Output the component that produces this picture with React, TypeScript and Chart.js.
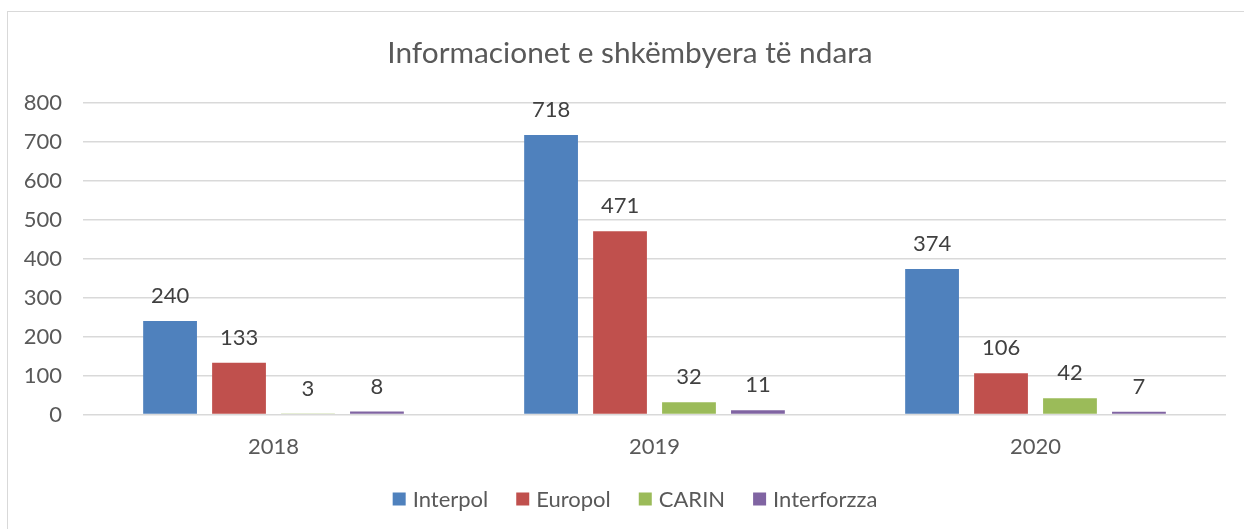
import React, { useEffect, useRef } from "react";
import { Chart, registerables } from "chart.js";

Chart.register(...registerables);

const categories = ["2018", "2019", "2020"];
const seriesNames = ["Interpol", "Europol", "CARIN", "Interforzza"];
const interpol = [240, 718, 374];
const europol = [133, 471, 106];
const carin = [3, 32, 42];
const interforzza = [8, 11, 7];
const colors = ["#4F81BD", "#C0504D", "#9BBB59", "#8064A2"];
const titleText = "Informacionet e shkëmbyera të ndara";
const FONT = "Lato, 'Open Sans', sans-serif";

const labelPlugin = {
  id: "barLabels",
  afterDatasetsDraw(chart: any) {
    const ctx = chart.ctx;
    ctx.save();
    ctx.font = `22px ${FONT}`;
    ctx.fillStyle = "#404040";
    ctx.textAlign = "center";
    ctx.textBaseline = "middle";
    chart.data.datasets.forEach((ds: any, i: number) => {
      const meta = chart.getDatasetMeta(i);
      meta.data.forEach((el: any, j: number) => {
        ctx.fillText(String(ds.data[j]), el.x, el.y - 25);
      });
    });
    ctx.restore();
  },
};

// Title and legend drawn on the canvas (centered like the original, offset from canvas center)
const titleLegendPlugin = {
  id: "titleLegend",
  afterDraw(chart: any) {
    const ctx = chart.ctx;
    ctx.save();
    ctx.fillStyle = "#595959";
    ctx.font = `29.8px ${FONT}`;
    ctx.textAlign = "center";
    ctx.textBaseline = "middle";
    ctx.fillText(titleText, 630, 53);

    ctx.font = `22px ${FONT}`;
    ctx.textAlign = "left";
    const box = 13;
    const gapText = 7;
    const gapItem = 28;
    const widths = chart.data.datasets.map((d: any) => box + gapText + ctx.measureText(d.label).width);
    const total = widths.reduce((a: number, b: number) => a + b, 0) + gapItem * (widths.length - 1);
    let x = 635 - total / 2;
    const cy = 499;
    chart.data.datasets.forEach((d: any, i: number) => {
      ctx.fillStyle = d.backgroundColor;
      ctx.fillRect(x, cy - box / 2, box, box);
      ctx.fillStyle = "#595959";
      ctx.fillText(d.label, x + box + gapText, cy + 1);
      x += widths[i] + gapItem;
    });
    ctx.restore();
  },
};

export default function App() {
  const ref = useRef<HTMLCanvasElement>(null);
  useEffect(() => {
    document.body.style.margin = "0";
    const all = [interpol, europol, carin, interforzza];
    const chart = new Chart(ref.current!, {
      type: "bar",
      data: {
        labels: categories,
        datasets: seriesNames.map((n, i) => ({
          label: n,
          data: all[i],
          backgroundColor: colors[i],
          barPercentage: 0.78,
          categoryPercentage: 0.724,
        })),
      },
      options: {
        animation: false,
        responsive: false,
        maintainAspectRatio: false,
        layout: { padding: { left: 0, right: 18, top: 103, bottom: 58 } },
        plugins: {
          title: { display: false },
          legend: { display: false },
          tooltip: { enabled: false },
        },
        scales: {
          x: {
            grid: { display: false },
            border: { display: false },
            ticks: { color: "#595959", font: { family: FONT, size: 22 }, padding: 11 },
          },
          y: {
            min: 0,
            max: 800,
            ticks: { stepSize: 100, color: "#595959", font: { family: FONT, size: 22 }, padding: 21 },
            grid: { color: "#d9d9d9", lineWidth: 1.5, drawTicks: false },
            border: { display: false },
            afterFit: (scale: any) => {
              scale.width = 83;
            },
          },
        },
      },
      plugins: [labelPlugin, titleLegendPlugin],
    });
    return () => chart.destroy();
  }, []);
  return (
    <div style={{ position: "relative", width: 1244, height: 529, overflow: "hidden", background: "#fff" }}>
      <div
        style={{
          position: "absolute",
          left: 7,
          top: 11,
          width: 1400,
          height: 700,
          border: "1px solid #d9d9d9",
        }}
      />
      <canvas ref={ref} width={1244} height={529} style={{ position: "absolute", left: 0, top: 0 }} />
    </div>
  );
}
